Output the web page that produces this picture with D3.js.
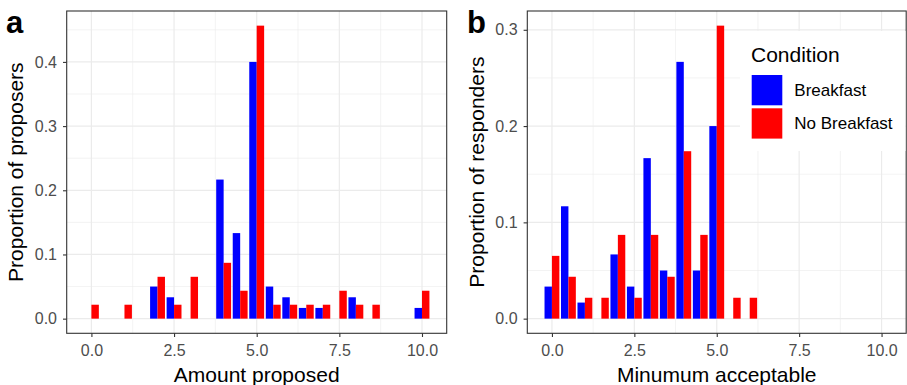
<!DOCTYPE html>
<html>
<head>
<meta charset="utf-8">
<script src="https://cdn.jsdelivr.net/npm/d3@7"></script>
<style>
  body { margin: 0; background: #fff; }
  text { font-family: "Liberation Sans", Arial, sans-serif; }
</style>
</head>
<body>
<div class="chart"></div>
<script>
var svgWidth = 907;
var svgHeight = 385;

// condition names / colours
var conditions = ["Breakfast", "No Breakfast"];
var colors = ["#0000FF", "#FF0000"];

// panel a: amount proposed
var amountX = [0, 1, 2, 2.5, 3, 4, 4.5, 5, 5.5, 6, 6.5, 7, 7.5, 8, 8.5, 10];
var amountBreakfast = [0, 0, 0.05, 0.0333, 0, 0.2167, 0.1333, 0.4, 0.05, 0.0333, 0.0167, 0.0167, 0, 0.0333, 0, 0.0167];
var amountNoBreakfast = [0.0217, 0.0217, 0.0652, 0.0217, 0.0652, 0.087, 0.0435, 0.4565, 0.0217, 0.0217, 0.0217, 0.0217, 0.0435, 0.0217, 0.0217, 0.0435];

// panel b: minimum acceptable
var minX = [0, 0.5, 1, 1.5, 2, 2.5, 3, 3.5, 4, 4.5, 5, 5.5, 6];
var minBreakfast = [0.0333, 0.1167, 0.0167, 0, 0.0667, 0.0333, 0.1667, 0.05, 0.2667, 0.05, 0.2, 0, 0];
var minNoBreakfast = [0.0652, 0.0435, 0.0217, 0.0217, 0.087, 0.0217, 0.087, 0.0435, 0.1739, 0.087, 0.3043, 0.0217, 0.0217];

var xTicks = [0, 2.5, 5, 7.5, 10];
var xMinor = [1.25, 3.75, 6.25, 8.75];
var yTicksA = [0, 0.1, 0.2, 0.3, 0.4];
var yMinorA = [0.05, 0.15, 0.25, 0.35, 0.45];
var yTicksB = [0, 0.1, 0.2, 0.3];
var yMinorB = [0.05, 0.15, 0.25];

var svg = d3.select(".chart")
  .append("svg")
  .attr("width", svgWidth)
  .attr("height", svgHeight);

/***************************************************************************/
// one ggplot-like panel
function drawPanel(p)
{
  var g = svg.append("g");
  var barW = 0.45;

  var rows = p.x.map(function(x, i) {
    return { x: x, vals: [p.b[i], p.n[i]] };
  });

  var yMax = d3.max(rows, d => d3.max(d.vals));
  var xLo = d3.min(p.x) - barW / 2, xHi = 10 + barW / 2;
  var xPad = (xHi - xLo) * 0.05;

  var xScale = d3.scaleLinear()
    .domain([xLo - xPad, xHi + xPad])
    .range([p.left, p.right]);

  var yScale = d3.scaleLinear()
    .domain([-yMax * 0.05, yMax * 1.05])
    .range([p.bottom, p.top]);

  // grid
  g.selectAll(".yminor").data(p.yMinor.filter(v => v < yMax * 1.05)).enter()
    .append("line")
    .attr("x1", p.left).attr("x2", p.right)
    .attr("y1", d => yScale(d)).attr("y2", d => yScale(d))
    .attr("stroke", "#ebebeb").attr("stroke-width", 0.6);
  g.selectAll(".xminor").data(xMinor).enter()
    .append("line")
    .attr("y1", p.top).attr("y2", p.bottom)
    .attr("x1", d => xScale(d)).attr("x2", d => xScale(d))
    .attr("stroke", "#ebebeb").attr("stroke-width", 0.6);
  g.selectAll(".ymajor").data(p.yTicks).enter()
    .append("line")
    .attr("x1", p.left).attr("x2", p.right)
    .attr("y1", d => yScale(d)).attr("y2", d => yScale(d))
    .attr("stroke", "#ebebeb").attr("stroke-width", 1.2);
  g.selectAll(".xmajor").data(xTicks).enter()
    .append("line")
    .attr("y1", p.top).attr("y2", p.bottom)
    .attr("x1", d => xScale(d)).attr("x2", d => xScale(d))
    .attr("stroke", "#ebebeb").attr("stroke-width", 1.2);

  // bars, dodged
  rows.forEach(function(r) {
    r.vals.forEach(function(v, k) {
      if (v <= 0) return;
      var x0 = r.x - barW / 2 + k * barW / 2;
      g.append("rect")
        .attr("x", xScale(x0))
        .attr("width", xScale(x0 + barW / 2) - xScale(x0))
        .attr("y", yScale(v))
        .attr("height", yScale(0) - yScale(v))
        .attr("fill", colors[k]);
    });
  });

  // panel border
  g.append("rect")
    .attr("x", p.left).attr("y", p.top)
    .attr("width", p.right - p.left).attr("height", p.bottom - p.top)
    .attr("fill", "none").attr("stroke", "#333333").attr("stroke-width", 1.1);

  // axes
  var bottomAxis = d3.axisBottom(xScale).tickValues(xTicks)
    .tickFormat(d3.format(".1f")).tickSize(3.7).tickPadding(8);
  var leftAxis = d3.axisLeft(yScale).tickValues(p.yTicks)
    .tickFormat(d3.format(".1f")).tickSize(3.7).tickPadding(6);

  var xAxis = g.append("g")
    .attr("transform", `translate(0, ${p.bottom})`)
    .call(bottomAxis);
  var yAxis = g.append("g")
    .attr("transform", `translate(${p.left}, 0)`)
    .call(leftAxis);

  [xAxis, yAxis].forEach(function(a) {
    a.select(".domain").remove();
    a.selectAll(".tick line").attr("stroke", "#333333").attr("stroke-width", 1.1);
    a.selectAll(".tick text")
      .attr("fill", "#4d4d4d")
      .style("font-size", "16px")
      .style("font-family", '"Liberation Sans", Arial, sans-serif');
  });

  // axis titles
  g.append("text")
    .attr("x", (p.left + p.right) / 2)
    .attr("y", 381.5)
    .attr("text-anchor", "middle")
    .style("font-size", "21px")
    .text(p.xTitle);

  g.append("text")
    .attr("transform", `translate(${p.left - 43.5}, ${(p.top + p.bottom) / 2}) rotate(-90)`)
    .attr("text-anchor", "middle")
    .style("font-size", "21px")
    .text(p.yTitle);

  // panel tag
  g.append("text")
    .attr("x", p.tagX)
    .attr("y", 33)
    .style("font-size", "31px")
    .style("font-weight", "bold")
    .text(p.tag);

  return g;
}

drawPanel({
  x: amountX, b: amountBreakfast, n: amountNoBreakfast,
  left: 66.7, right: 446.7, top: 11, bottom: 333.3,
  yTicks: yTicksA, yMinor: yMinorA,
  xTitle: "Amount proposed", yTitle: "Proportion of proposers",
  tag: "a", tagX: 6
});

var panelB = drawPanel({
  x: minX, b: minBreakfast, n: minNoBreakfast,
  left: 527.3, right: 906.2, top: 11, bottom: 333.3,
  yTicks: yTicksB, yMinor: yMinorB,
  xTitle: "Minumum acceptable", yTitle: "Proportion of responders",
  tag: "b", tagX: 467
});

/***************************************************************************/
// legend (inside panel b)
var legend = svg.append("g");
legend.append("rect")
  .attr("x", 740).attr("y", 31)
  .attr("width", 165.5).attr("height", 120)
  .attr("fill", "#fff");

legend.append("text")
  .attr("x", 751).attr("y", 61.5)
  .style("font-size", "21px")
  .text("Condition");

conditions.forEach(function(c, i) {
  legend.append("rect")
    .attr("x", 751.7).attr("y", 75 + i * 33.3)
    .attr("width", 30.6).attr("height", 30.3)
    .attr("fill", colors[i]);
  legend.append("text")
    .attr("x", 794.3).attr("y", 75 + i * 33.3 + 21)
    .style("font-size", "17px")
    .text(c);
});
</script>
</body>
</html>
